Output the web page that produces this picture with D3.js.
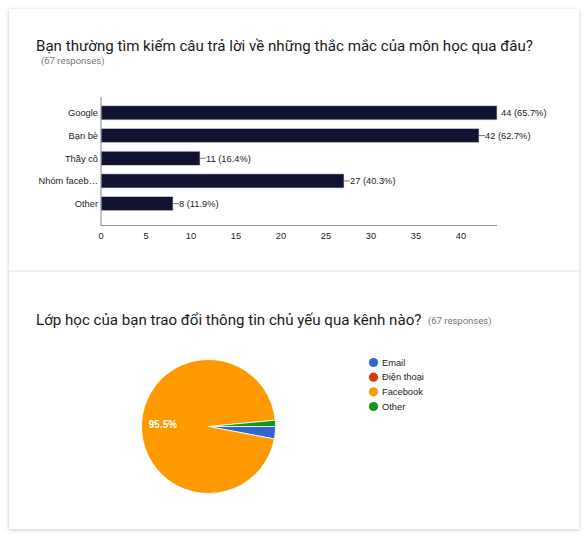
<!DOCTYPE html>
<html><head><meta charset="utf-8">
<script src="https://cdn.jsdelivr.net/npm/d3@7"></script>
<style>
html,body{margin:0;padding:0;background:#fff;}
#card{position:absolute;left:9px;top:9px;width:570px;height:520px;background:#fff;box-shadow:0 1px 4px rgba(0,0,0,0.22);}
svg{position:absolute;left:0;top:0;}
</style></head>
<body>
<div id="card"></div>
<svg id="chart" width="588" height="538"></svg>
<script>
const title1 = "Bạn thường tìm kiếm câu trả lời về những thắc mắc của môn học qua đâu?";
const title2 = "Lớp học của bạn trao đổi thông tin chủ yếu qua kênh nào?";
const responsesLabel = "(67 responses)";
const barCategories = ["Google", "Bạn bè", "Thầy cô", "Nhóm faceb…", "Other"];
const barValues = [44, 42, 11, 27, 8];
const barPercents = ["65.7%", "62.7%", "16.4%", "40.3%", "11.9%"];
const xTicks = [0, 5, 10, 15, 20, 25, 30, 35, 40];
const pieCategories = ["Email", "Điện thoại", "Facebook", "Other"];
const pieValues = [2, 0, 64, 1];
const pieColors = ["#3366cc", "#dc3912", "#ff9900", "#109618"];

const svg = d3.select("#chart");
const FS = 9.3;

// separator between sections
svg.append("rect").attr("x", 9).attr("y", 270).attr("width", 570).attr("height", 2).attr("fill", "#f1f1f1");

// Titles
svg.append("text").attr("x", 36).attr("y", 51).attr("font-family", "Roboto").attr("font-size", 15.1)
  .attr("fill", "#1a1a1a").text(title1);
svg.append("text").attr("x", 41).attr("y", 64).attr("font-family", "Roboto").attr("font-size", 9.5)
  .attr("fill", "#777").text(responsesLabel);

svg.append("text").attr("x", 36).attr("y", 324.5).attr("font-family", "Roboto").attr("font-size", 15.1)
  .attr("fill", "#1a1a1a").text(title2);
svg.append("text").attr("x", 428).attr("y", 323.5).attr("font-family", "Roboto").attr("font-size", 9.5)
  .attr("fill", "#777").text(responsesLabel);

// Bar chart
const x = d3.scaleLinear().domain([0, 40]).range([101, 461]);
const y = d3.scaleBand().domain(barCategories).range([101.5, 215]).paddingInner(0.38).paddingOuter(0.19);

const g = svg.append("g").attr("font-family", "Liberation Sans, Arial, sans-serif");

g.selectAll("rect.bar").data(barCategories).join("rect")
  .attr("x", x(0)).attr("y", d => y(d)).attr("height", y.bandwidth())
  .attr("width", (d, i) => x(barValues[i]) - x(0))
  .attr("fill", "#121233").attr("stroke", "#d8d8e0").attr("stroke-width", 0.6);

// axes lines
g.append("line").attr("x1", 101).attr("x2", 101).attr("y1", 97).attr("y2", 226).attr("stroke", "#888").attr("stroke-width", 1);
g.append("line").attr("x1", 101).attr("x2", x(44)).attr("y1", 225.5).attr("y2", 225.5).attr("stroke", "#999").attr("stroke-width", 1.2);

// x tick labels
g.selectAll("text.xt").data(xTicks).join("text")
  .attr("x", d => x(d)).attr("y", 238.5).attr("text-anchor", "middle")
  .attr("font-size", FS).attr("fill", "#222").text(d => d);

// category labels
g.selectAll("text.cat").data(barCategories).join("text")
  .attr("x", 98).attr("y", d => y(d) + y.bandwidth() / 2 + 3.3).attr("text-anchor", "end")
  .attr("font-size", FS).attr("fill", "#222").text(d => d);

// value labels with leader line
barCategories.forEach((c, i) => {
  const xe = x(barValues[i]);
  const yc = y(c) + y.bandwidth() / 2;
  if (i !== 0) {
    g.append("line").attr("x1", xe).attr("x2", xe + 6).attr("y1", yc).attr("y2", yc)
      .attr("stroke", "#555").attr("stroke-width", 0.8);
  }
  g.append("text").attr("x", i === 0 ? xe + 4 : xe + 6).attr("y", yc + 3.3)
    .attr("font-size", FS).attr("fill", "#222")
    .text(barValues[i] + " (" + barPercents[i] + ")");
});

// Pie chart
const cx = 208.5, cy = 426.5, r = 67;
const pie = d3.pie().sort(null).value(d => d).startAngle(Math.PI / 2).endAngle(Math.PI / 2 + 2 * Math.PI);
const arcs = pie(pieValues);
const arcGen = d3.arc().innerRadius(0).outerRadius(r);
const pg = svg.append("g").attr("transform", `translate(${cx},${cy})`);
pg.selectAll("path").data(arcs).join("path")
  .attr("d", arcGen).attr("fill", (d, i) => pieColors[i])
  .attr("stroke", "#fff").attr("stroke-width", (d) => d.value > 0 ? 0.8 : 0);

// label for facebook slice
const fb = arcs[2];
const mid = (fb.startAngle + fb.endAngle) / 2;
const total = d3.sum(pieValues);
pg.append("text")
  .attr("x", Math.sin(mid) * r * 0.68).attr("y", -Math.cos(mid) * r * 0.68 + 3.5)
  .attr("text-anchor", "middle").attr("font-family", "Liberation Sans, Arial, sans-serif")
  .attr("font-size", 10).attr("font-weight", "bold").attr("fill", "#fff")
  .text((fb.value / total * 100).toFixed(1) + "%");

// legend
const lg = svg.append("g").attr("font-family", "Liberation Sans, Arial, sans-serif");
const ly = d3.scalePoint().domain(pieCategories).range([362.5, 406.5]);
lg.selectAll("circle").data(pieCategories).join("circle")
  .attr("cx", 373.5).attr("cy", d => ly(d)).attr("r", 4.6).attr("fill", (d, i) => pieColors[i]);
lg.selectAll("text").data(pieCategories).join("text")
  .attr("x", 382).attr("y", d => ly(d) + 3.3).attr("font-size", FS).attr("fill", "#222").text(d => d);
</script>
</body></html>
